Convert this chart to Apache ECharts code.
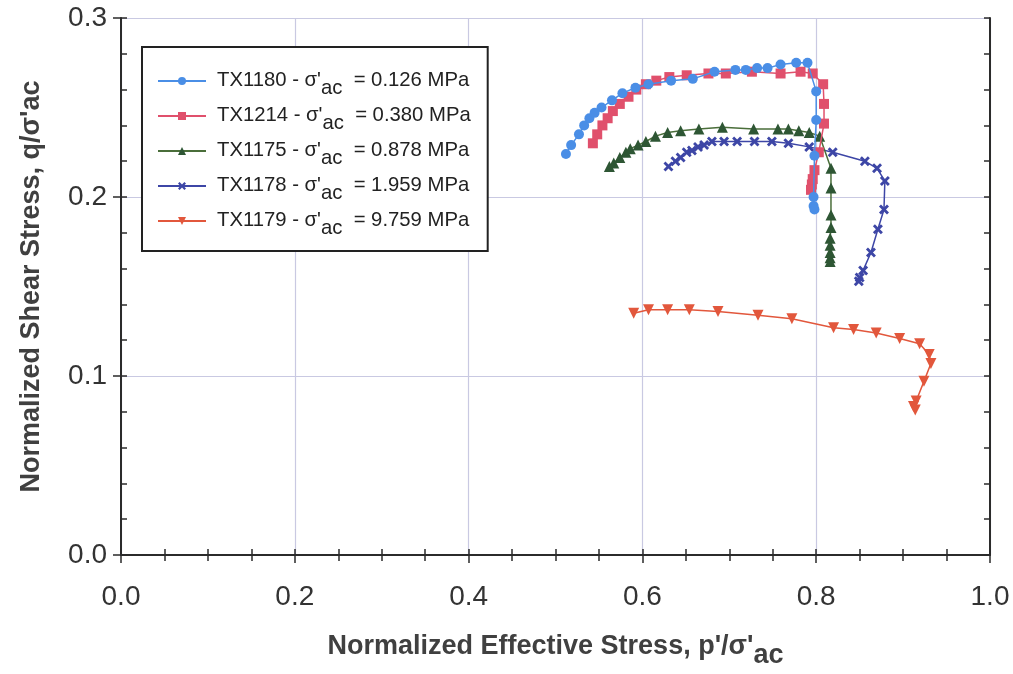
<!DOCTYPE html>
<html>
<head>
<meta charset="utf-8">
<script src="https://cdn.jsdelivr.net/npm/echarts@6/dist/echarts.min.js"></script>
<style>
  html, body { margin: 0; padding: 0; background: #fff; overflow: hidden; }
  #chart { width: 1013px; height: 674px; }
</style>
</head>
<body>
<div id="chart"></div>
<script>
// Normalized stress paths: [p'/σ'ac, q/σ'ac]
const tx1180 = [
  [0.512,0.224],[0.518,0.229],[0.527,0.235],[0.533,0.240],[0.539,0.244],[0.545,0.247],
  [0.553,0.250],[0.565,0.254],[0.577,0.258],[0.592,0.261],[0.607,0.263],[0.633,0.265],
  [0.658,0.266],[0.683,0.270],[0.707,0.271],[0.719,0.271],[0.732,0.272],[0.744,0.272],
  [0.759,0.274],[0.777,0.275],[0.790,0.275],[0.800,0.259],[0.800,0.243],[0.798,0.223],
  [0.797,0.200],[0.797,0.195],[0.798,0.193]
];
const tx1214 = [
  [0.543,0.230],[0.548,0.235],[0.554,0.240],[0.560,0.244],[0.566,0.248],[0.574,0.252],
  [0.584,0.256],[0.593,0.260],[0.604,0.263],[0.616,0.265],[0.631,0.267],[0.651,0.268],
  [0.676,0.269],[0.696,0.269],[0.726,0.270],[0.759,0.269],[0.782,0.270],[0.796,0.269],
  [0.808,0.263],[0.809,0.252],[0.809,0.241],[0.803,0.225],[0.798,0.215],[0.796,0.210],
  [0.795,0.207],[0.794,0.204]
];
const tx1175 = [
  [0.562,0.217],[0.567,0.219],[0.574,0.222],[0.581,0.225],[0.586,0.227],[0.595,0.229],
  [0.604,0.231],[0.615,0.234],[0.629,0.236],[0.644,0.237],[0.665,0.238],[0.692,0.239],
  [0.728,0.238],[0.756,0.238],[0.768,0.238],[0.780,0.237],[0.792,0.236],[0.804,0.234],
  [0.817,0.216],[0.817,0.205],[0.817,0.190],[0.817,0.183],[0.816,0.177],[0.816,0.173],
  [0.816,0.169],[0.816,0.166],[0.816,0.164]
];
const tx1178 = [
  [0.630,0.217],[0.638,0.220],[0.644,0.222],[0.651,0.225],[0.657,0.226],[0.664,0.228],
  [0.671,0.229],[0.680,0.231],[0.694,0.231],[0.709,0.231],[0.729,0.231],[0.749,0.231],
  [0.768,0.230],[0.792,0.228],[0.819,0.225],[0.856,0.220],[0.870,0.216],[0.879,0.209],
  [0.878,0.193],[0.871,0.182],[0.863,0.169],[0.854,0.159],[0.850,0.155],[0.849,0.153]
];
const tx1179 = [
  [0.590,0.135],[0.607,0.137],[0.629,0.137],[0.654,0.137],[0.687,0.136],[0.733,0.134],
  [0.772,0.132],[0.820,0.127],[0.843,0.126],[0.869,0.124],[0.896,0.121],[0.919,0.118],
  [0.930,0.112],[0.932,0.107],[0.924,0.097],[0.915,0.086],[0.912,0.083],[0.914,0.081]
];

const seriesNames = ['TX1180', 'TX1214', 'TX1175', 'TX1178', 'TX1179'];
const stressValues = ['0.126', '0.380', '0.878', '1.959', '9.759'];
const xTicks = { min: 0, max: 1, interval: 0.2 };
const yTicks = { min: 0, max: 0.3, interval: 0.1 };

const crossSymbol = 'path://M2,0 L5,3 L8,0 L10,2 L7,5 L10,8 L8,10 L5,7 L2,10 L0,8 L3,5 L0,2 Z';

const styles = [
  { line: '#4a8ee6', fill: '#4a8ee6', symbol: 'circle', size: 10, rotate: 0 },
  { line: '#e0506c', fill: '#e0506c', symbol: 'rect', size: 10, rotate: 0 },
  { line: '#4a6e3a', fill: '#2e5634', symbol: 'triangle', size: 11, rotate: 0 },
  { line: '#3d46a6', fill: '#3d46a6', symbol: crossSymbol, size: 10, rotate: 0 },
  { line: '#e2573c', fill: '#e2573c', symbol: 'triangle', size: 11, rotate: 180 }
];
const dataSets = [tx1180, tx1214, tx1175, tx1178, tx1179];

const legendFont = 'Liberation Sans, Arial, sans-serif';
const axisFont = 'Liberation Sans, Arial, sans-serif';

const chart = echarts.init(document.getElementById('chart'), null, { renderer: 'canvas', width: 1013, height: 674 });

const series = dataSets.map((d, i) => ({
  name: seriesNames[i],
  type: 'line',
  data: d,
  xAxisIndex: 0,
  yAxisIndex: 0,
  symbol: styles[i].symbol,
  symbolSize: styles[i].size,
  symbolRotate: styles[i].rotate,
  showAllSymbol: true,
  animation: false,
  lineStyle: { color: styles[i].line, width: 1.5 },
  itemStyle: { color: styles[i].fill, borderWidth: 0 },
  z: 10 - i
}));

const tickLine = { color: '#2b2b2b', width: 1.5 };

chart.setOption({
  backgroundColor: '#ffffff',
  animation: false,
  grid: { left: 121, width: 869, top: 18, height: 544, containLabel: false },
  legend: {
    orient: 'vertical',
    left: 142,
    top: 47,
    padding: [23, 17, 13, 15],
    backgroundColor: '#ffffff',
    borderColor: '#222',
    borderWidth: 2,
    itemWidth: 48,
    itemHeight: 10,
    itemGap: 7,
    data: seriesNames,
    formatter: name => {
      const i = seriesNames.indexOf(name);
      return '{f|' + name + ' - σ\'}{s|ac}{t|  = ' + stressValues[i] + ' MPa}';
    },
    textStyle: {
      fontFamily: legendFont,
      fontSize: 20.3,
      color: '#222',
      rich: {
        f: { fontFamily: legendFont, fontSize: 20.3, color: '#222', lineHeight: 22, verticalAlign: 'top', padding: [0, 0, 0, 6] },
        t: { fontFamily: legendFont, fontSize: 20.3, color: '#222', lineHeight: 22, verticalAlign: 'top' },
        s: { fontFamily: legendFont, fontSize: 20.3, color: '#222', lineHeight: 22, verticalAlign: 'top', padding: [8, 0, 0, 0] }
      }
    }
  },
  xAxis: [
    {
      type: 'value', position: 'bottom', min: xTicks.min, max: xTicks.max, interval: xTicks.interval,
      name: '{b|Normalized Effective Stress, p\'/σ\'}{bs|ac}',
      nameLocation: 'middle', nameGap: 78,
      nameTextStyle: {
        rich: {
          b: { fontFamily: axisFont, fontWeight: 'bold', fontSize: 27, color: '#404040', verticalAlign: 'top', lineHeight: 32 },
          bs: { fontFamily: axisFont, fontWeight: 'bold', fontSize: 27, color: '#404040', verticalAlign: 'top', lineHeight: 32, padding: [9, 0, 0, 0] }
        }
      },
      axisLine: { show: true, onZero: false, lineStyle: { color: '#2b2b2b', width: 2 } },
      axisTick: { show: true, inside: false, length: 8, lineStyle: tickLine },
      axisLabel: { fontFamily: axisFont, fontSize: 28, color: '#333', margin: 28, formatter: v => v.toFixed(1) },
      splitLine: { show: true, lineStyle: { color: '#c9c9e2', width: 1.2 } }
    },
    {
      type: 'value', position: 'bottom', min: 0, max: 1, interval: 0.05,
      axisLine: { show: false }, axisLabel: { show: false }, splitLine: { show: false },
      axisTick: { show: true, inside: true, length: 6, lineStyle: tickLine }
    },
    {
      type: 'value', position: 'top', min: 0, max: 1, interval: 0.05,
      axisLine: { show: false }, axisLabel: { show: false }, splitLine: { show: false },
      axisTick: { show: true, inside: true, length: 6, lineStyle: tickLine }
    }
  ],
  yAxis: [
    {
      type: 'value', position: 'left', min: yTicks.min, max: yTicks.max, interval: yTicks.interval,
      name: 'Normalized Shear Stress, q/σ\'ac',
      nameLocation: 'middle', nameGap: 76,
      nameTextStyle: { fontFamily: axisFont, fontWeight: 'bold', fontSize: 27, color: '#404040' },
      axisLine: { show: true, onZero: false, lineStyle: { color: '#2b2b2b', width: 2 } },
      axisTick: { show: true, inside: false, length: 8, lineStyle: tickLine },
      axisLabel: { fontFamily: axisFont, fontSize: 28, color: '#333', margin: 14, formatter: v => v.toFixed(1) },
      splitLine: { show: true, lineStyle: { color: '#c9c9e2', width: 1.2 } }
    },
    {
      type: 'value', position: 'left', min: 0, max: 0.3, interval: 0.02,
      axisLine: { show: false }, axisLabel: { show: false }, splitLine: { show: false },
      axisTick: { show: true, inside: true, length: 6, lineStyle: tickLine }
    },
    {
      type: 'value', position: 'right', min: 0, max: 0.3, interval: 0.02,
      axisLine: { show: true, onZero: false, lineStyle: { color: '#2b2b2b', width: 2 } },
      axisLabel: { show: false }, splitLine: { show: false },
      axisTick: { show: true, inside: true, length: 6, lineStyle: tickLine }
    }
  ],
  series: series
});
</script>
</body>
</html>
